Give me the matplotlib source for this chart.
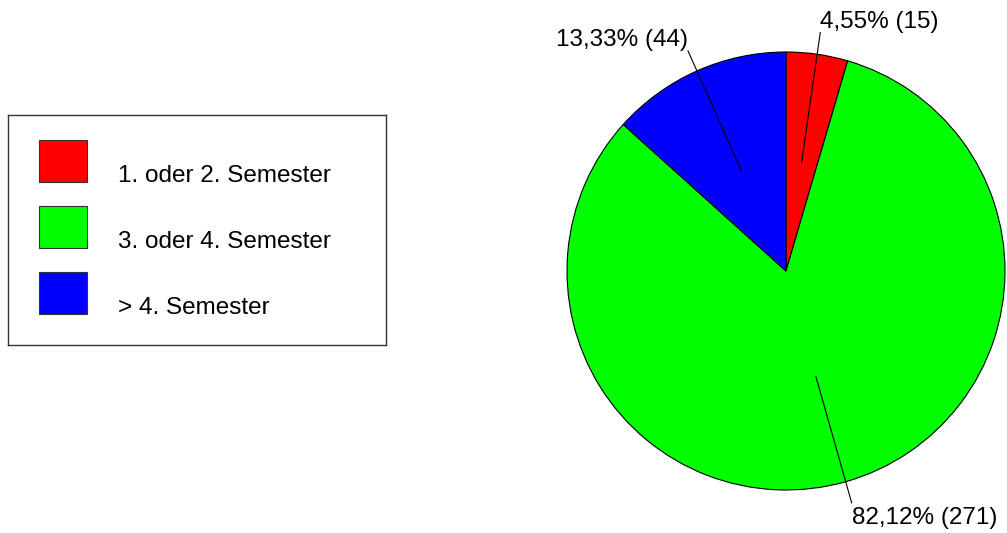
import matplotlib
matplotlib.use("Agg")
import matplotlib.pyplot as plt
from matplotlib.patches import Rectangle
import numpy as np

plt.rcParams['font.family'] = ['Liberation Sans', 'DejaVu Sans']

categories = ['1. oder 2. Semester', '3. oder 4. Semester', '> 4. Semester']
counts = [15, 271, 44]
colors = ['#ff0000', '#00ff00', '#0000ff']

W, H = 1007, 533
fig = plt.figure(figsize=(W / 100, H / 100), dpi=100)

# pie, placed in pixel terms: centre (786, 271), radius 219
cx, cy, r = 786, 271, 219
ax = fig.add_axes([(cx - r) / W, (H - cy - r) / H, 2 * r / W, 2 * r / H])
wedges, _ = ax.pie(counts, colors=colors, startangle=90, counterclock=False,
                   radius=1, wedgeprops=dict(edgecolor='black', linewidth=0.8))
ax.set_xlim(-1, 1)
ax.set_ylim(-1, 1)
ax.set_aspect('equal')
ax.axis('off')

total = sum(counts)
for w, n in zip(wedges, counts):
    ang = np.deg2rad((w.theta1 + w.theta2) / 2)
    c, s = np.cos(ang), np.sin(ang)
    ax.plot([0.5 * c, 1.1 * c], [0.5 * s, 1.1 * s], color='black', lw=0.8,
            clip_on=False)
    label = f"{100 * n / total:.2f}%".replace('.', ',') + f" ({n})"
    ax.annotate(label, (1.1 * c, 1.1 * s), xytext=(0, 0 if s > 0 else -4),
                textcoords='offset pixels', fontsize=17.5,
                ha='left' if c > 0 else 'right',
                va='bottom' if s > 0 else 'top', annotation_clip=False)

# legend box at pixels x 8..386, y 115..345
lx0, ly0, lx1, ly1 = 8, 115, 386, 345
lax = fig.add_axes([lx0 / W, (H - ly1) / H, (lx1 - lx0) / W, (ly1 - ly0) / H])
lax.set_xlim(lx0, lx1)
lax.set_ylim(ly1, ly0)
lax.set_xticks([])
lax.set_yticks([])
for sp in lax.spines.values():
    sp.set_color('#333333')
    sp.set_linewidth(1.0)

for i, (cat, col) in enumerate(zip(categories, colors)):
    top = 140 + i * 66
    lax.add_patch(Rectangle((39, top), 48, 42, facecolor=col,
                            edgecolor='#333333', linewidth=0.8))
    lax.text(118, top + 42, cat, fontsize=17.5, ha='left', va='baseline')

fig.savefig('out.png', dpi=100)
